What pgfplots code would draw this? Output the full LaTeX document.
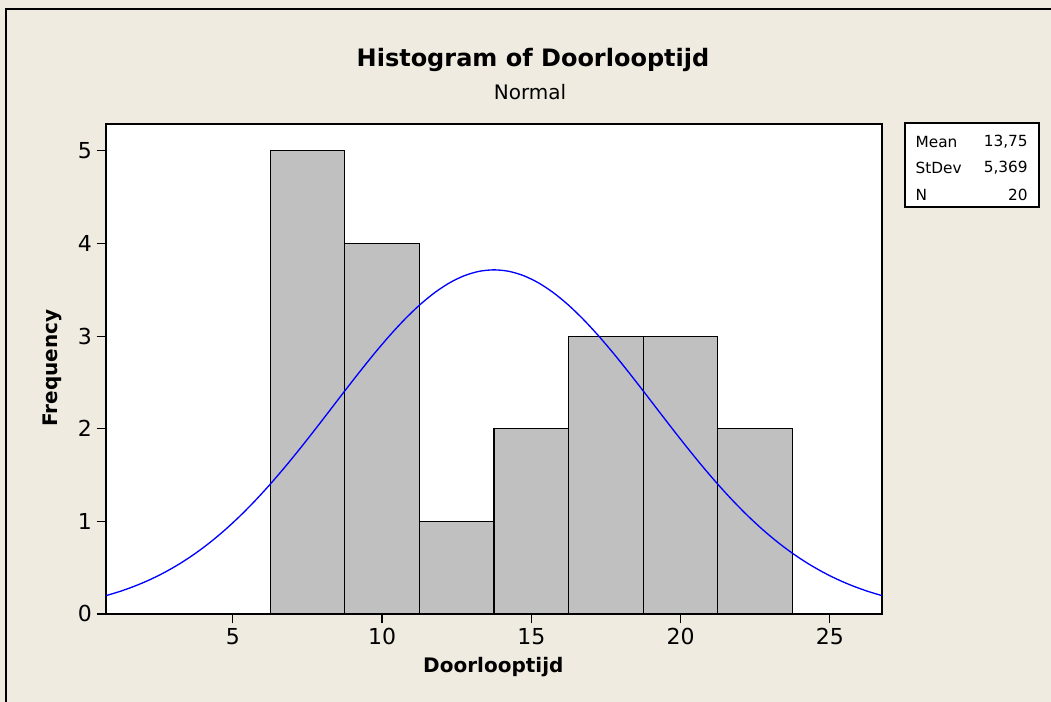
\documentclass[border=0pt]{standalone}
\usepackage{fontspec}
\setmainfont{DejaVu Sans}
\usepackage{pgfplots}
\pgfplotsset{compat=1.18}
\definecolor{bg}{RGB}{239,235,225}
\definecolor{bargray}{RGB}{192,192,192}

\begin{document}
\begin{tikzpicture}
\fill[bg] (0,0) rectangle (788.25pt,526.5pt);
\useasboundingbox (0,0) rectangle (788.25pt,526.5pt);
\draw[line width=1.5pt] (4.5pt,0) -- (4.5pt,519.4pt) -- (788.25pt,519.4pt);
\begin{axis}[
  scale only axis, width=582pt, height=367.5pt,
  at={(79.5pt,66pt)}, anchor=south west,
  xmin=0.75, xmax=26.75, ymin=0, ymax=5.29,
  xtick={5,10,15,20,25}, ytick={0,1,2,3,4,5},
  tick align=outside, xtick pos=left, ytick pos=left,
  major tick length=7pt,
  axis background/.style={fill=white},
  axis line style={line width=1pt},
  tick style={black, line width=0.9pt},
  ticklabel style={font=\fontsize{16.5}{19}\selectfont},
  /pgf/number format/assume math mode=true,
]
\addplot[ybar interval, fill=bargray, draw=black, line width=0.9pt] coordinates {
(6.25,5) (8.75,4) (11.25,1) (13.75,2) (16.25,3) (18.75,3) (21.25,2) (23.75,2)
};
\addplot[blue, line width=1pt, smooth] coordinates {
(0.75,0.1981) (1.25,0.2472) (1.75,0.3057) (2.25,0.3747) (2.75,0.4554)
(3.25,0.5488) (3.75,0.6556) (4.25,0.7764) (4.75,0.9116) (5.25,1.0610)
(5.75,1.2244) (6.25,1.4005) (6.75,1.5881) (7.25,1.7854) (7.75,1.9898)
(8.25,2.1985) (8.75,2.4081) (9.25,2.6148) (9.75,2.8150) (10.25,3.0041)
(10.75,3.1783) (11.25,3.3336) (11.75,3.4663) (12.25,3.5731) (12.75,3.6514)
(13.25,3.6992) (13.75,3.7153) (14.25,3.6992) (14.75,3.6514) (15.25,3.5731)
(15.75,3.4663) (16.25,3.3336) (16.75,3.1783) (17.25,3.0041) (17.75,2.8150)
(18.25,2.6148) (18.75,2.4081) (19.25,2.1985) (19.75,1.9898) (20.25,1.7854)
(20.75,1.5881) (21.25,1.4005) (21.75,1.2244) (22.25,1.0610) (22.75,0.9116)
(23.25,0.7764) (23.75,0.6556) (24.25,0.5488) (24.75,0.4554) (25.25,0.3747)
(25.75,0.3057) (26.25,0.2472) (26.75,0.1981)
};
\end{axis}
\node[font=\bfseries\fontsize{18}{21}\selectfont] at (399.75pt,481.5pt) {Histogram of Doorlooptijd};
\node[font=\fontsize{15}{18}\selectfont] at (397.5pt,457.5pt) {Normal};
\node[font=\bfseries\fontsize{15}{18}\selectfont, rotate=90] at (39pt,250.5pt) {Frequency};
\node[font=\bfseries\fontsize{15}{18}\selectfont] at (370pt,26.25pt) {Doorlooptijd};
\draw[fill=white, line width=0.8pt] (678.75pt,434.25pt) rectangle (779.25pt,371.25pt);
\begin{scope}[every node/.style={font=\fontsize{11.5}{13}\selectfont, inner sep=0pt}]
\node[anchor=west] at (686.5pt,420.2pt) {Mean};
\node[anchor=west] at (686.5pt,400.5pt) {StDev};
\node[anchor=west] at (686.5pt,380.25pt) {N};
\node[anchor=east] at (771pt,420.2pt) {13,75};
\node[anchor=east] at (771pt,400.5pt) {5,369};
\node[anchor=east] at (771pt,380.25pt) {20};
\end{scope}
\end{tikzpicture}
\end{document}
